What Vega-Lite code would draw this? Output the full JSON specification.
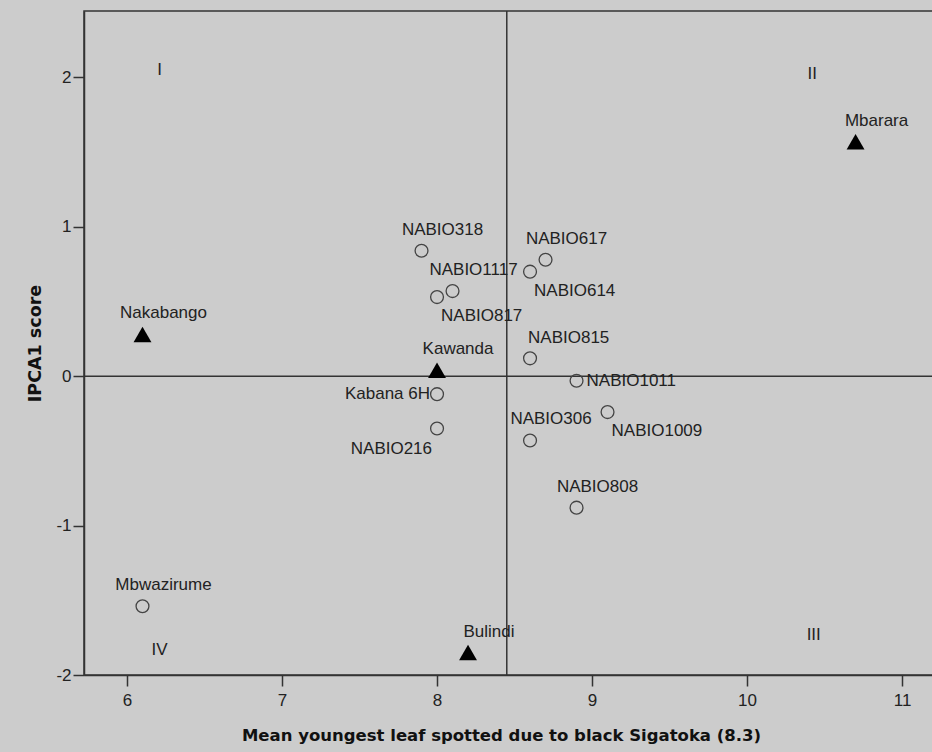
{
  "$schema": "https://vega.github.io/schema/vega-lite/v6.json",
  "autosize": {"type": "none"},
  "padding": {"left": 84, "top": 11, "right": 0, "bottom": 77},
  "width": 850,
  "height": 664,
  "background": "#cccccc",
  "config": {
    "view": {"fill": "#cccccc", "stroke": "#333333", "strokeWidth": 1.5},
    "font": "Liberation Sans",
    "axis": {
      "grid": false,
      "domainColor": "#333333",
      "domainWidth": 1.5,
      "tickColor": "#333333",
      "tickWidth": 1.5,
      "tickSize": 11,
      "labelColor": "#222222",
      "labelFontSize": 17,
      "labelFont": "Liberation Sans",
      "titleFont": "DejaVu Sans",
      "titleFontWeight": "bold",
      "titleColor": "#111111"
    }
  },
  "datasets": {
    "points": [
      {"name": "Nakabango", "kind": "environment", "x": 6.1, "y": 0.28},
      {"name": "Mbarara", "kind": "environment", "x": 10.7, "y": 1.57},
      {"name": "Kawanda", "kind": "environment", "x": 8.0, "y": 0.04},
      {"name": "Bulindi", "kind": "environment", "x": 8.2, "y": -1.85},
      {"name": "NABIO318", "kind": "genotype", "x": 7.9, "y": 0.84},
      {"name": "NABIO617", "kind": "genotype", "x": 8.7, "y": 0.78},
      {"name": "NABIO614", "kind": "genotype", "x": 8.6, "y": 0.7},
      {"name": "NABIO1117", "kind": "genotype", "x": 8.1, "y": 0.57},
      {"name": "NABIO817", "kind": "genotype", "x": 8.0, "y": 0.53},
      {"name": "NABIO815", "kind": "genotype", "x": 8.6, "y": 0.12},
      {"name": "NABIO1011", "kind": "genotype", "x": 8.9, "y": -0.03},
      {"name": "Kabana 6H", "kind": "genotype", "x": 8.0, "y": -0.12},
      {"name": "NABIO1009", "kind": "genotype", "x": 9.1, "y": -0.24},
      {"name": "NABIO216", "kind": "genotype", "x": 8.0, "y": -0.35},
      {"name": "NABIO306", "kind": "genotype", "x": 8.6, "y": -0.43},
      {"name": "NABIO808", "kind": "genotype", "x": 8.9, "y": -0.88},
      {"name": "Mbwazirume", "kind": "genotype", "x": 6.1, "y": -1.54}
    ],
    "quadrants": [
      {"label": "I", "x": 6.21, "y": 2.05},
      {"label": "II", "x": 10.42, "y": 2.02},
      {"label": "III", "x": 10.43, "y": -1.73},
      {"label": "IV", "x": 6.21, "y": -1.83}
    ],
    "refs": [
      {"xmean": 8.45, "yzero": 0}
    ]
  },
  "encoding": {
    "x": {
      "field": "x",
      "type": "quantitative",
      "scale": {"domain": [5.7226, 11.206], "nice": false, "zero": false},
      "axis": {"values": [6, 7, 8, 9, 10, 11], "labelPadding": 6, "titlePadding": 19, "titleFontSize": 16.5, "titleX": 417, "title": "Mean youngest leaf spotted due to black Sigatoka (8.3)"}
    },
    "y": {
      "field": "y",
      "type": "quantitative",
      "scale": {"domain": [-2, 2.445], "nice": false, "zero": false},
      "axis": {"values": [-2, -1, 0, 1, 2], "labelExpr": "'' + datum.value", "labelPadding": 2, "titlePadding": 11, "titleFontSize": 17.5, "title": "IPCA1 score"}
    }
  },
  "layer": [
    {
      "data": {"name": "refs"},
      "mark": {"type": "rule", "color": "#333333", "strokeWidth": 1.5},
      "encoding": {"x": {"field": "xmean", "type": "quantitative"}, "y": null}
    },
    {
      "data": {"name": "refs"},
      "mark": {"type": "rule", "color": "#333333", "strokeWidth": 1.5},
      "encoding": {"y": {"field": "yzero", "type": "quantitative"}, "x": null}
    },
    {
      "data": {"name": "points"},
      "transform": [{"filter": "datum.kind === 'genotype'"}],
      "mark": {"type": "point", "shape": "circle", "filled": false, "stroke": "#444444", "strokeWidth": 1.3, "size": 165, "opacity": 1}
    },
    {
      "data": {"name": "points"},
      "transform": [{"filter": "datum.kind === 'environment'"}],
      "mark": {"type": "point", "shape": "triangle-up", "filled": true, "fill": "#000000", "size": 320, "opacity": 1}
    },
    {
      "data": {"name": "points"},
      "transform": [{"filter": {"field": "name", "oneOf": ["NABIO318", "NABIO617", "NABIO1117", "NABIO306", "NABIO808", "Mbwazirume", "Nakabango", "Mbarara", "Kawanda", "Bulindi"]}}],
      "mark": {"type": "text", "align": "center", "baseline": "middle", "dx": 21, "dy": -21, "fontSize": 17, "color": "#222222"},
      "encoding": {"text": {"field": "name"}}
    },
    {
      "data": {"name": "points"},
      "transform": [{"filter": {"field": "name", "oneOf": ["NABIO815"]}}],
      "mark": {"type": "text", "align": "left", "baseline": "middle", "dx": -2, "dy": -20, "fontSize": 17, "color": "#222222"},
      "encoding": {"text": {"field": "name"}}
    },
    {
      "data": {"name": "points"},
      "transform": [{"filter": {"field": "name", "oneOf": ["NABIO614", "NABIO817", "NABIO1009"]}}],
      "mark": {"type": "text", "align": "left", "baseline": "middle", "dx": 4, "dy": 19, "fontSize": 17, "color": "#222222"},
      "encoding": {"text": {"field": "name"}}
    },
    {
      "data": {"name": "points"},
      "transform": [{"filter": {"field": "name", "oneOf": ["NABIO1011"]}}],
      "mark": {"type": "text", "align": "left", "baseline": "middle", "dx": 10, "dy": 0, "fontSize": 17, "color": "#222222"},
      "encoding": {"text": {"field": "name"}}
    },
    {
      "data": {"name": "points"},
      "transform": [{"filter": {"field": "name", "oneOf": ["Kabana 6H"]}}],
      "mark": {"type": "text", "align": "right", "baseline": "middle", "dx": -7, "dy": 0, "fontSize": 17, "color": "#222222"},
      "encoding": {"text": {"field": "name"}}
    },
    {
      "data": {"name": "points"},
      "transform": [{"filter": {"field": "name", "oneOf": ["NABIO216"]}}],
      "mark": {"type": "text", "align": "right", "baseline": "middle", "dx": -5, "dy": 20, "fontSize": 17, "color": "#222222"},
      "encoding": {"text": {"field": "name"}}
    },
    {
      "data": {"name": "quadrants"},
      "mark": {"type": "text", "align": "center", "baseline": "middle", "fontSize": 17, "color": "#222222"},
      "encoding": {"text": {"field": "label"}}
    }
  ]
}
